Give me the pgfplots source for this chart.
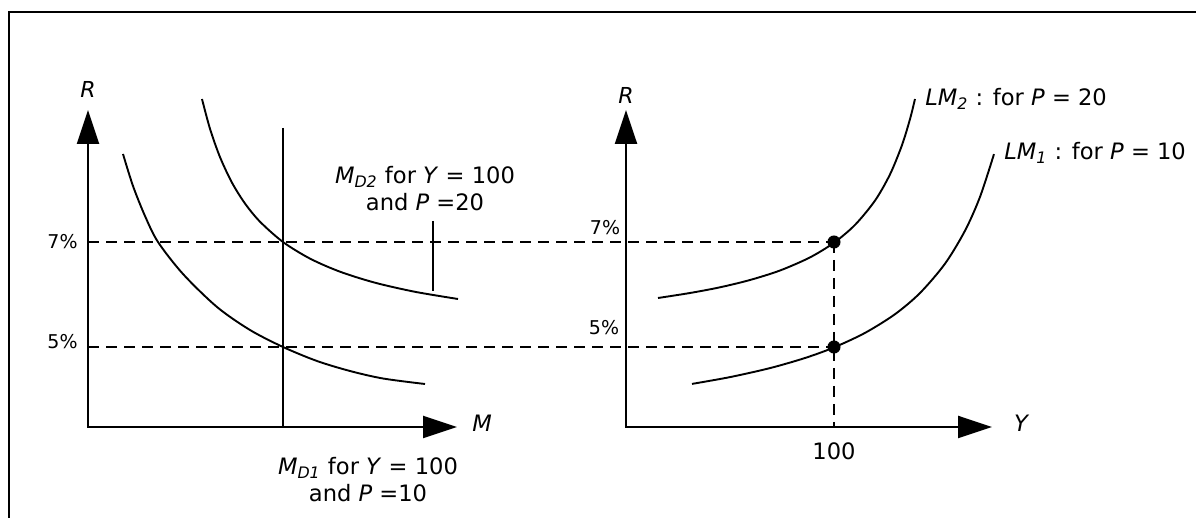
\documentclass[border=0pt]{standalone}
\usepackage{fontspec}
\setmainfont{DejaVu Sans}
\usepackage{pgfplots}
\pgfplotsset{compat=1.18}
\usetikzlibrary{arrows.meta}
\tikzset{
  ax/.style={line width=1.2pt, line join=miter,
    {Triangle[length=17pt,width=11pt]}-{Triangle[length=17pt,width=11pt]}},
  dsh/.style={line width=0.9pt, dash pattern=on 5.5pt off 3.5pt},
  lbl/.style={font=\fontsize{11.3}{13.5}\selectfont, inner sep=0pt},
  pct/.style={font=\fontsize{9.5}{11}\selectfont, inner sep=0pt},
  crv/.style={black, line width=0.95pt, smooth},
}
\begin{document}
\begin{tikzpicture}
\begin{axis}[
  x=0.5pt, y=0.5pt, y dir=reverse,
  xmin=0, xmax=1196, ymin=0, ymax=518,
  hide axis, clip mode=individual,
  every axis plot/.append style={black, line width=0.9pt, mark=none},
]
% frame
\addplot[black, line width=1pt] coordinates {(9,560) (9,12) (1240,12)};
% axes
\addplot[black, ax] coordinates {(88,110) (88,427) (457,427)};
\addplot[black, ax] coordinates {(626,110) (626,427) (992,427)};
% money supply line and short line
\addplot[black, line width=0.95pt] coordinates {(283,128) (283,427)};
\addplot[black, line width=0.95pt] coordinates {(433,221) (433,291)};
% dashed lines
\addplot[black, dsh] coordinates {(88,242) (834,242)};
\addplot[black, dsh] coordinates {(88,347) (834,347)};
\addplot[black, dsh] coordinates {(834,242) (834,427)};
% MD1
\addplot[crv] coordinates {(123,154) (133,186) (145,216) (158,242) (183,274) (217,307) (250,330) (283,347) (317,361) (350,371) (383,378.5) (425,384)};
% MD2
\addplot[crv] coordinates {(202,99) (210,128.8) (220,157.1) (232,182.7) (245,203.5) (260,221.7) (283,242) (310,258.6) (340,271.7) (375,282.7) (415,291.8) (458,299)};
% LM2
\addplot[crv] coordinates {(658,298) (690,293) (720,287.3) (750,280) (780,270.5) (810,257.4) (834,242.7) (855,224.9) (875,200.6) (890,174.4) (902,145.1) (910,119.1) (915,99)};
% LM1
\addplot[crv] coordinates {(692,383.9) (730,377.1) (770,368.1) (805,358) (834,347.4) (865,332.9) (895,314.2) (920,293) (945,263.7) (965,230.7) (980,196.9) (994,154.1)};
% equilibrium dots
\addplot[black, only marks, mark=*, mark size=3pt, line width=0.5pt] coordinates {(834,242) (834,347)};
% labels
\node[lbl, font=\fontsize{11}{13}\selectfont\itshape] at (88,89) {R};
\node[lbl, font=\fontsize{11}{13}\selectfont\itshape] at (626,95) {R};
\node[lbl, font=\fontsize{11.3}{13.5}\selectfont\itshape] at (482,423) {M};
\node[lbl, font=\fontsize{11.3}{13.5}\selectfont\itshape] at (1021,423) {Y};
\node[pct, anchor=east] at (78,242) {7\%};
\node[pct, anchor=east] at (78,342) {5\%};
\node[pct] at (605,228) {7\%};
\node[pct] at (604,328) {5\%};
\node[lbl] at (834,451) {100};
\node[lbl, align=center] at (425,188.5) {\textit{M}\textsubscript{\textit{D2}} for \textit{Y} = 100\\and \textit{P} =20};
\node[lbl, align=center] at (368,479.5) {\textit{M}\textsubscript{\textit{D1}} for \textit{Y} = 100\\and \textit{P} =10};
\node[lbl, anchor=west] at (925,99) {\textit{LM}\textsubscript{\textit{2}} : for \textit{P} = 20};
\node[lbl, anchor=west] at (1004,153) {\textit{LM}\textsubscript{\textit{1}} : for \textit{P} = 10};
\end{axis}
\pgfresetboundingbox
\path[use as bounding box] (0,0) rectangle (598pt,259pt);
\end{tikzpicture}
\end{document}
